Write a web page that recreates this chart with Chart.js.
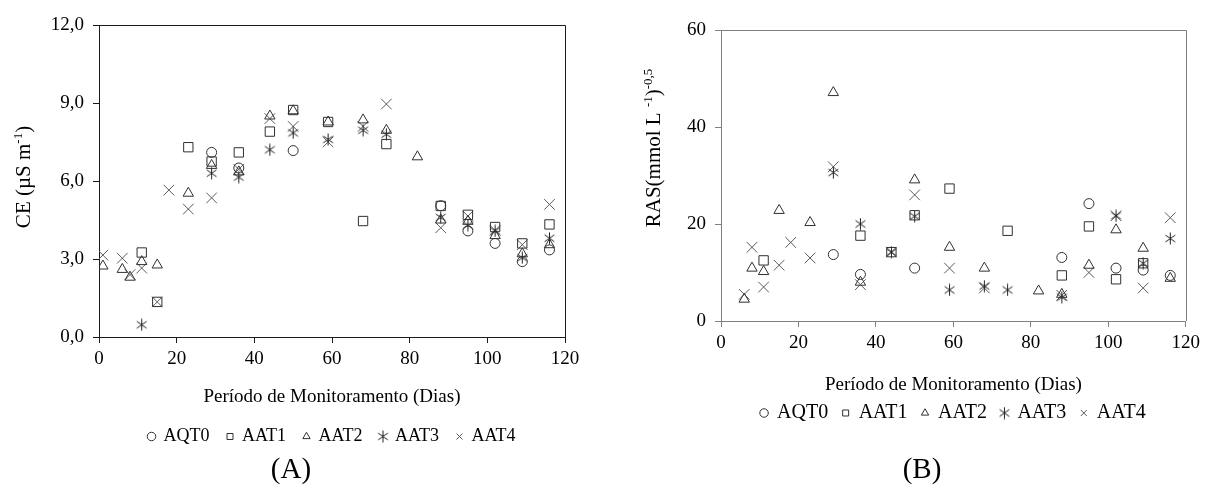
<!DOCTYPE html>
<html>
<head>
<meta charset="utf-8">
<script src="https://cdn.jsdelivr.net/npm/chart.js@4.4.0/dist/chart.umd.min.js"></script>
<style>
  html, body { margin: 0; padding: 0; background: #fff; }
  .wrap { position: absolute; top: 0; width: 600px; height: 486px; }
  #boxA { left: 0; }
  #boxB { left: 605px; }
</style>
</head>
<body>
<div class="wrap" id="boxA"><canvas id="ceChart" width="600" height="486"></canvas></div>
<div class="wrap" id="boxB"><canvas id="rasChart" width="600" height="486"></canvas></div>
<script>
// ==================== DATA ====================
const seriesNames = ['AQT0', 'AAT1', 'AAT2', 'AAT3', 'AAT4'];
const xTitle = 'Período de Monitoramento (Dias)';

// (A) CE
const ceAqt0Dias = [29, 36, 50, 88, 95, 102, 109, 116];
const ceAqt0 = [7.1, 6.5, 7.17, 5.05, 4.08, 3.6, 2.9, 3.35];
const ceAat1Dias = [11, 15, 23, 29, 36, 44, 50, 59, 68, 74, 88, 95, 102, 109, 116];
const ceAat1 = [3.25, 1.35, 7.3, 6.75, 7.1, 7.9, 8.73, 8.27, 4.46, 7.42, 5.04, 4.7, 4.23, 3.6, 4.33];
const ceAat2Dias = [1, 6, 8, 11, 15, 23, 29, 36, 44, 50, 59, 68, 74, 82, 88, 95, 102, 109, 116];
const ceAat2 = [2.73, 2.6, 2.3, 2.9, 2.77, 5.53, 6.6, 6.35, 8.5, 8.7, 8.27, 8.35, 7.95, 6.93, 4.5, 4.45, 3.9, 3.2, 3.55];
const ceAat3Dias = [11, 29, 36, 44, 50, 59, 68, 74, 88, 95, 102, 109, 116];
const ceAat3 = [0.47, 6.3, 6.15, 7.2, 7.85, 7.6, 7.95, 7.8, 4.6, 4.3, 4.08, 3.05, 3.8];
const ceAat4Dias = [1, 6, 8, 11, 15, 18, 23, 29, 36, 44, 50, 59, 68, 74, 88, 95, 102, 109, 116];
const ceAat4 = [3.15, 3.03, 2.4, 2.65, 1.35, 5.65, 4.92, 5.35, 6.45, 8.4, 8.1, 7.5, 8.1, 8.96, 4.2, 4.65, 4.1, 3.55, 5.1];

// (B) RAS
const rasAqt0Dias = [29, 36, 50, 88, 95, 102, 109, 116];
const rasAqt0 = [13.7, 9.6, 10.9, 13.1, 24.2, 10.9, 10.5, 9.4];
const rasAat1Dias = [11, 36, 44, 50, 59, 74, 88, 95, 102, 109];
const rasAat1 = [12.5, 17.6, 14.2, 21.8, 27.3, 18.6, 9.4, 19.5, 8.6, 11.9];
const rasAat2Dias = [6, 8, 11, 15, 23, 29, 36, 50, 59, 68, 82, 88, 95, 102, 109, 116];
const rasAat2 = [4.5, 10.9, 10.2, 22.8, 20.3, 47.1, 8.0, 29.1, 15.2, 10.9, 6.2, 5.5, 11.5, 18.8, 15.0, 8.8];
const rasAat3Dias = [29, 36, 44, 50, 59, 68, 74, 88, 102, 109, 116];
const rasAat3 = [30.6, 20.0, 14.2, 21.6, 6.4, 7.2, 6.4, 4.9, 21.7, 11.9, 17.0];
const rasAat4Dias = [6, 8, 11, 15, 18, 23, 29, 36, 44, 50, 59, 68, 88, 95, 102, 109, 116];
const rasAat4 = [5.5, 15.2, 7.0, 11.5, 16.2, 13.0, 31.8, 7.5, 14.2, 26.0, 10.9, 6.8, 5.3, 10.0, 21.7, 6.8, 21.3];

// ==================== HELPERS ====================
Chart.defaults.font.family = "'Liberation Serif', 'Times New Roman', serif";
Chart.defaults.color = '#000';

const toPoints = (dias, vals) => dias.map((d, i) => ({ x: d, y: vals[i] }));

// six-armed asterisk marker (X with a vertical bar)
function makeAsterisk(size, color) {
    const c = document.createElement('canvas');
    c.width = size; c.height = size;
    const g = c.getContext('2d');
    g.strokeStyle = color;
    g.lineWidth = 1;
    const m = size / 2, r = size / 2 - 0.5;
    [90, 35, 145].forEach(deg => {
        const a = deg * Math.PI / 180;
        g.beginPath();
        g.moveTo(m - Math.cos(a) * r, m - Math.sin(a) * r);
        g.lineTo(m + Math.cos(a) * r, m + Math.sin(a) * r);
        g.stroke();
    });
    return c;
}

const markColor = '#303030';
const xColor = '#5a5a5a';
const asterisk = makeAsterisk(13, '#202020');

const styles = [
    { pointStyle: 'circle', pointRadius: 5, color: markColor },
    { pointStyle: 'rect', pointRadius: 6.6, color: markColor },
    { pointStyle: 'triangle', pointRadius: 6, color: markColor },
    { pointStyle: asterisk, pointRadius: 6, color: markColor },
    { pointStyle: 'crossRot', pointRadius: 7.5, color: xColor }
];

function buildDatasets(pairs) {
    return pairs.map((p, i) => ({
        label: seriesNames[i],
        data: toPoints(p[0], p[1]),
        pointStyle: styles[i].pointStyle,
        pointRadius: styles[i].pointRadius,
        pointHoverRadius: styles[i].pointRadius,
        borderColor: styles[i].color,
        backgroundColor: 'rgba(0,0,0,0)',
        pointBorderWidth: 1,
        borderWidth: 1,
        showLine: false
    }));
}

// frame on top and right + rotated y title with superscripts
const framePlugin = {
    id: 'frame',
    afterDraw(chart, args, opts) {
        const { ctx, chartArea: { left, top, right, bottom } } = chart;
        ctx.save();
        ctx.strokeStyle = opts.color;
        ctx.lineWidth = 1;
        const t = Math.round(top) + 0.5, r = Math.round(right) + 0.5;
        ctx.beginPath();
        ctx.moveTo(left, t);
        ctx.lineTo(r, t);
        ctx.lineTo(r, bottom);
        ctx.stroke();

        // y axis title
        const parts = opts.title;
        const size = opts.size, supSize = Math.round(size * 0.62);
        const mainFont = size + "px 'Liberation Serif', serif";
        const supFont = supSize + "px 'Liberation Serif', serif";
        let total = 0;
        parts.forEach(p => {
            ctx.font = p.sup ? supFont : mainFont;
            total += ctx.measureText(p.text).width;
        });
        ctx.translate(opts.x, opts.y);
        ctx.rotate(-Math.PI / 2);
        ctx.fillStyle = '#000';
        ctx.textBaseline = 'alphabetic';
        let cx = -total / 2;
        parts.forEach(p => {
            ctx.font = p.sup ? supFont : mainFont;
            ctx.fillText(p.text, cx, p.sup ? size * 0.35 - size * 0.42 : size * 0.35);
            cx += ctx.measureText(p.text).width;
        });
        ctx.restore();
    }
};

function makeOptions(cfg) {
    const axisColor = cfg.axisColor;
    return {
        responsive: false,
        animation: false,
        events: [],
        layout: { padding: cfg.padding },
        plugins: {
            legend: {
                position: 'bottom',
                fullSize: false,
                labels: {
                    usePointStyle: true,
                    boxWidth: 6,
                    boxHeight: 6,
                    padding: cfg.legendPadding,
                    color: '#000',
                    font: { size: cfg.legendFont }
                }
            },
            title: {
                display: true,
                position: 'bottom',
                text: cfg.panel,
                color: '#000',
                font: { size: 29, weight: 'normal', lineHeight: 1 },
                padding: { top: cfg.panelPadTop, bottom: 0 }
            },
            tooltip: { enabled: false },
            frame: {
                color: axisColor,
                title: cfg.yTitle,
                size: 21,
                x: cfg.yTitleX,
                y: cfg.yTitleY
            }
        },
        scales: {
            x: {
                type: 'linear',
                min: 0,
                max: 120,
                ticks: { stepSize: 20, font: { size: 19 }, color: '#000', padding: 5 },
                grid: { drawOnChartArea: false, drawTicks: true, tickLength: 6, color: axisColor },
                border: { color: axisColor, width: 1 },
                title: {
                    display: true,
                    text: xTitle,
                    color: '#000',
                    font: { size: 19, lineHeight: 1.2 },
                    padding: { top: 0, bottom: cfg.xTitlePadBottom }
                },
                afterFit: s => { s.height = cfg.xAxisHeight; }
            },
            y: {
                min: 0,
                max: cfg.yMax,
                ticks: {
                    stepSize: cfg.yStep,
                    font: { size: 19 },
                    color: '#000',
                    padding: 9,
                    callback: cfg.yFormat
                },
                grid: { drawOnChartArea: false, drawTicks: true, tickLength: 6, color: axisColor },
                border: { color: axisColor, width: 1 },
                afterFit: s => { s.width = cfg.yAxisWidth; }
            }
        }
    };
}

// ==================== CHART A ====================
new Chart(document.getElementById('ceChart').getContext('2d'), {
    type: 'scatter',
    data: {
        datasets: buildDatasets([
            [ceAqt0Dias, ceAqt0], [ceAat1Dias, ceAat1], [ceAat2Dias, ceAat2],
            [ceAat3Dias, ceAat3], [ceAat4Dias, ceAat4]
        ])
    },
    options: makeOptions({
        axisColor: '#1a1a1a',
        padding: { left: 17, right: 35, top: 25, bottom: 1.5 },
        legendPadding: 17.5,
        legendFont: 18,
        panel: '(A)',
        panelPadTop: 0,
        xTitlePadBottom: 1.1,
        xAxisHeight: 73,
        yAxisWidth: 82,
        yMax: 12,
        yStep: 3,
        yFormat: v => v.toFixed(1).replace('.', ','),
        yTitle: [{ text: 'CE (µS m' }, { text: '-1', sup: true }, { text: ')' }],
        yTitleX: 23,
        yTitleY: 177
    }),
    plugins: [framePlugin]
});

// ==================== CHART B ====================
new Chart(document.getElementById('rasChart').getContext('2d'), {
    type: 'scatter',
    data: {
        datasets: buildDatasets([
            [rasAqt0Dias, rasAqt0], [rasAat1Dias, rasAat1], [rasAat2Dias, rasAat2],
            [rasAat3Dias, rasAat3], [rasAat4Dias, rasAat4]
        ])
    },
    options: makeOptions({
        axisColor: '#808080',
        padding: { left: 51, right: 17, top: 30, bottom: 1.5 },
        legendPadding: 14.5,
        legendFont: 20,
        panel: '(B)',
        panelPadTop: 22.5,
        xTitlePadBottom: -7.9,
        xAxisHeight: 67.5,
        yAxisWidth: 65,
        yMax: 60,
        yStep: 20,
        yFormat: v => String(v),
        yTitle: [{ text: 'RAS(mmol L ' }, { text: '-1', sup: true }, { text: ')' }, { text: '-0,5', sup: true }],
        yTitleX: 48,
        yTitleY: 148
    }),
    plugins: [framePlugin]
});
</script>
</body>
</html>
